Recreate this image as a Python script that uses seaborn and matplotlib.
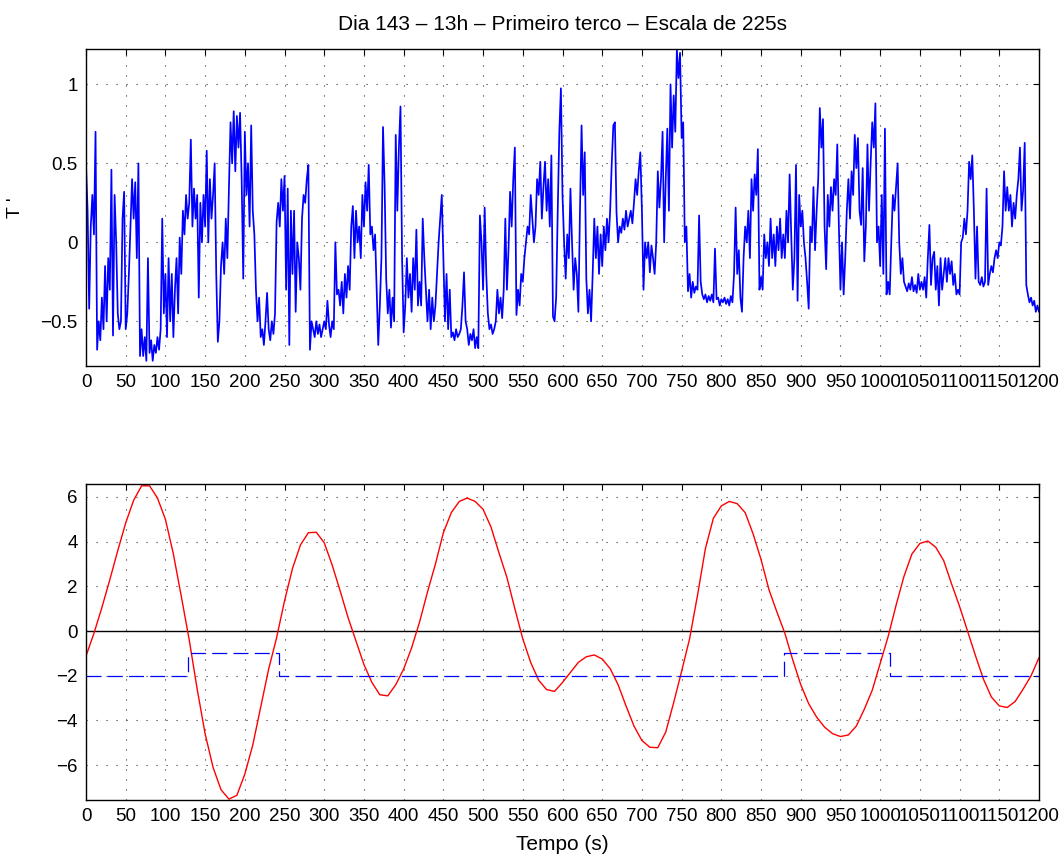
import numpy as np
import pandas as pd
import matplotlib
matplotlib.use("Agg")
import matplotlib.pyplot as plt
import seaborn as sns

# --- data --------------------------------------------------------------
# top panel: temperature fluctuation T' sampled every 2 s (0..1200 s)
sig_dt = 2
sig_vals = [
    0.50, 0.20, -0.42, 0.10, 0.30, 0.05, 0.70, -0.68, -0.50, -0.62,
    -0.35, -0.55, -0.15, -0.50, -0.10, -0.30, 0.46, -0.59, 0.30, 0.00,
    -0.45, -0.55, -0.50, 0.15, 0.32, -0.55, -0.45, -0.20, 0.10, 0.40,
    0.15, 0.38, -0.10, 0.50, -0.72, -0.55, -0.72, -0.60, -0.75, -0.10,
    -0.70, -0.62, -0.75, -0.65, -0.70, -0.60, -0.68, -0.55, 0.15, -0.45,
    -0.20, -0.60, -0.10, -0.50, -0.20, -0.60, -0.30, -0.10, -0.45, 0.03,
    -0.20, 0.20, 0.05, 0.30, 0.15, 0.25, 0.65, 0.10, 0.34, 0.15,
    0.30, -0.35, 0.25, 0.00, 0.30, 0.10, 0.58, 0.00, 0.40, 0.15,
    0.30, 0.50, -0.20, -0.63, -0.50, -0.15, 0.00, -0.20, 0.15, -0.10,
    0.35, 0.76, 0.50, 0.83, 0.45, 0.80, 0.60, 0.82, 0.40, -0.23,
    0.70, 0.30, 0.50, 0.10, 0.74, 0.20, 0.05, -0.30, -0.50, -0.35,
    -0.60, -0.55, -0.65, -0.50, -0.32, -0.55, -0.62, -0.50, -0.58, -0.45,
    0.13, 0.25, 0.10, 0.40, 0.20, 0.42, -0.30, 0.34, -0.65, 0.20,
    -0.20, 0.20, -0.44, 0.00, -0.10, -0.30, 0.15, 0.30, 0.25, 0.40,
    0.49, -0.68, -0.50, -0.55, -0.60, -0.50, -0.58, -0.52, -0.60, -0.55,
    -0.50, -0.55, -0.37, -0.52, -0.60, -0.50, -0.55, 0.00, -0.33, -0.30,
    -0.40, -0.25, -0.45, -0.20, -0.35, -0.15, -0.30, 0.10, 0.23, -0.10,
    0.20, 0.00, 0.10, -0.10, 0.30, 0.10, 0.38, 0.20, 0.49, 0.05,
    0.10, -0.05, 0.05, -0.30, -0.65, -0.40, -0.10, 0.73, 0.36, -0.23,
    -0.45, -0.30, -0.54, -0.35, -0.50, 0.68, 0.20, 0.60, 0.86, -0.10,
    -0.57, -0.40, -0.10, -0.35, -0.20, -0.44, -0.10, -0.30, 0.08, -0.40,
    -0.25, -0.40, 0.15, -0.10, -0.30, -0.50, -0.30, -0.55, -0.35, -0.50,
    -0.40, -0.20, 0.00, 0.15, 0.30, -0.10, -0.50, -0.20, -0.55, -0.30,
    -0.60, -0.57, -0.62, -0.55, -0.60, -0.58, -0.55, -0.40, -0.19, -0.50,
    -0.55, -0.65, -0.58, -0.62, -0.55, -0.67, -0.60, -0.67, 0.17, 0.00,
    -0.30, 0.22, -0.20, -0.45, -0.55, -0.52, -0.58, -0.55, -0.50, -0.30,
    -0.45, -0.35, -0.48, -0.30, 0.15, -0.30, -0.05, 0.32, 0.10, 0.40,
    0.60, -0.46, -0.30, -0.40, -0.20, -0.25, -0.10, 0.00, 0.10, 0.05,
    0.30, 0.15, 0.00, 0.10, 0.40, 0.30, 0.51, 0.15, 0.35, 0.51,
    0.20, 0.40, 0.10, 0.55, -0.47, -0.50, -0.35, 0.20, 0.70, 0.975,
    0.30, 0.00, -0.23, 0.05, -0.10, 0.34, 0.00, -0.30, -0.10, -0.20,
    -0.44, 0.20, 0.74, 0.30, 0.57, -0.23, -0.45, -0.30, -0.50, -0.20,
    0.15, -0.10, 0.10, -0.20, 0.05, -0.15, 0.10, -0.05, 0.15, 0.00,
    0.20, 0.50, 0.74, 0.76, 0.19, 0.00, 0.10, 0.06, 0.15, 0.08,
    0.20, 0.10, 0.15, 0.20, 0.12, 0.25, 0.40, 0.30, 0.45, 0.57,
    0.20, -0.30, 0.00, -0.10, 0.00, -0.19, -0.02, -0.10, -0.20, 0.00,
    0.45, 0.22, 0.40, 0.70, 0.00, 0.40, 0.72, 0.20, 1.00, 0.60,
    0.93, 0.70, 1.22, 1.04, 1.20, 0.66, 0.76, 0.00, 0.10, -0.31,
    -0.20, -0.35, -0.25, -0.32, -0.28, -0.30, 0.17, -0.25, -0.33, -0.36,
    -0.33, -0.38, -0.34, -0.37, -0.33, -0.38, -0.04, -0.36, -0.35, -0.40,
    -0.36, -0.38, -0.35, -0.39, -0.36, -0.40, -0.34, -0.38, -0.20, 0.22,
    -0.20, -0.05, -0.35, -0.44, -0.10, 0.10, 0.00, 0.20, -0.10, 0.40,
    0.20, 0.43, 0.30, 0.59, -0.30, -0.22, -0.30, 0.05, -0.10, 0.00,
    -0.15, 0.15, -0.10, 0.05, -0.15, 0.10, -0.05, 0.15, -0.10, 0.05,
    -0.10, 0.20, 0.00, 0.43, 0.05, -0.30, -0.10, 0.49, -0.37, 0.30,
    0.10, 0.20, 0.00, -0.10, -0.25, -0.42, 0.10, 0.00, 0.35, -0.05,
    0.20, 0.40, 0.85, 0.60, 0.78, 0.10, -0.17, 0.30, 0.10, 0.35,
    0.20, 0.40, 0.30, 0.62, 0.10, -0.30, 0.00, -0.33, -0.10, 0.20,
    0.40, 0.15, 0.45, 0.30, 0.68, 0.47, 0.66, 0.20, 0.11, 0.47,
    -0.12, 0.10, 0.62, 0.20, 0.50, 0.76, 0.60, 0.88, 0.00, 0.10,
    -0.15, 0.30, -0.20, 0.72, -0.33, -0.25, -0.33, 0.00, 0.30, 0.20,
    0.35, 0.50, 0.00, -0.20, -0.10, -0.25, -0.28, -0.31, -0.26, -0.30,
    -0.22, -0.31, -0.27, -0.32, -0.20, -0.30, -0.25, -0.30, -0.22, -0.35,
    -0.10, 0.11, -0.27, -0.10, -0.06, -0.30, -0.15, -0.40, -0.10, -0.30,
    -0.20, -0.10, -0.25, -0.10, -0.20, -0.12, -0.27, -0.20, -0.33, -0.30,
    -0.33, 0.00, 0.03, 0.15, 0.05, 0.20, 0.51, 0.40, 0.55, 0.20,
    -0.23, 0.10, -0.25, -0.27, -0.22, -0.28, -0.25, 0.34, -0.27, -0.20,
    -0.15, -0.19, -0.10, -0.05, -0.10, 0.00, -0.02, 0.10, 0.45, 0.20,
    0.35, 0.20, 0.30, 0.10, 0.25, 0.15, 0.30, 0.40, 0.60, 0.20,
    0.33, 0.63, -0.27, -0.33, -0.38, -0.35, -0.40, -0.37, -0.44, -0.40,
    -0.44,
]

# bottom panel: wavelet coefficient (every 10 s)
coef_dt = 10
coef_vals = [
    -1.12, -0.10, 1.05, 2.30, 3.60, 4.84, 5.85, 6.50, 6.50, 5.95,
    5.00, 3.45, 1.55, -0.40, -2.60, -4.60, -6.10, -7.10, -7.52, -7.35,
    -6.40, -5.10, -3.40, -1.70, -0.30, 1.35, 2.80, 3.85, 4.40, 4.42,
    3.95, 2.95, 1.80, 0.60, -0.45, -1.50, -2.30, -2.85, -2.90, -2.40,
    -1.70, -0.75, 0.40, 1.75, 3.00, 4.40, 5.30, 5.80, 5.95, 5.80,
    5.45, 4.65, 3.50, 2.40, 1.00, -0.35, -1.41, -2.20, -2.62, -2.70,
    -2.30, -1.85, -1.40, -1.15, -1.07, -1.25, -1.68, -2.40, -3.35, -4.25,
    -4.90, -5.20, -5.22, -4.52, -3.20, -1.80, -0.35, 1.60, 3.70, 5.05,
    5.60, 5.80, 5.70, 5.30, 4.35, 3.20, 1.85, 0.85, -0.10, -1.30,
    -2.40, -3.25, -3.85, -4.30, -4.59, -4.72, -4.65, -4.25, -3.50, -2.65,
    -1.45, -0.25, 1.15, 2.45, 3.45, 3.92, 4.03, 3.75, 3.15, 2.10,
    1.10, 0.00, -1.10, -2.15, -2.95, -3.35, -3.42, -3.15, -2.60, -2.00,
    -1.19,
]

# bottom panel: blue step indicator
step_t = [0, 128, 243, 879, 1012, 1200]
step_level = [-2, -1, -2, -1, -2, -2]

xticks = list(range(0, 1201, 50))
top_yticks = [-0.5, 0, 0.5, 1]
top_ylabels = ["\u22120.5", "0", "0.5", "1"]
bot_yticks = [-6, -4, -2, 0, 2, 4, 6]

title = "Dia 143 \u2013 13h \u2013 Primeiro terco \u2013 Escala de 225s"

# --- style ---------------------------------------------------------------
sns.set_theme(style="white")
plt.rcParams["font.family"] = ["Liberation Sans", "DejaVu Sans"]
plt.rcParams["axes.unicode_minus"] = True
plt.rcParams["text.color"] = "black"
plt.rcParams["axes.labelcolor"] = "black"

sig = pd.DataFrame({"t": np.arange(len(sig_vals)) * sig_dt, "T": sig_vals})
coef = pd.DataFrame({"t": np.arange(len(coef_vals)) * coef_dt, "c": coef_vals})
step = pd.DataFrame({"t": step_t, "lev": step_level})

W, H = 1064, 857
fig = plt.figure(figsize=(W / 100, H / 100), dpi=100)
ax1 = fig.add_axes([86 / W, (H - 366) / H, 953 / W, 317 / H])
ax2 = fig.add_axes([86 / W, (H - 800) / H, 953 / W, 316 / H])

grid_kw = dict(color="0.2", linestyle=(0, (1, 8)), linewidth=0.8)


def matlab_axes(ax):
    ax.set_facecolor("white")
    for s in ax.spines.values():
        s.set_visible(True)
        s.set_color("black")
        s.set_linewidth(1.0)
    ax.tick_params(direction="in", length=4.5, width=0.8, top=True, right=True,
                   labelsize=13.5, colors="black", pad=6)
    ax.set_xlim(0, 1200)
    ax.set_xticks(xticks)
    ax.set_xticklabels([str(x) for x in xticks])
    ax.grid(True, **grid_kw)
    ax.set_axisbelow(True)
    ax.set_xlabel("")
    ax.set_ylabel("")


# top panel
sns.lineplot(data=sig, x="t", y="T", ax=ax1, color="#0000ff", linewidth=1.25,
             estimator=None, sort=False, legend=False)
matlab_axes(ax1)
ax1.set_ylim(-0.783, 1.224)
ax1.set_yticks(top_yticks)
ax1.set_yticklabels(top_ylabels)
ax1.set_ylabel("T '", fontsize=14, labelpad=12)

# bottom panel
ax2.axhline(0, color="black", linewidth=1.0, zorder=2)
sns.lineplot(data=coef, x="t", y="c", ax=ax2, color="#ff0000", linewidth=1.0,
             estimator=None, sort=False, legend=False)
sns.lineplot(data=step, x="t", y="lev", ax=ax2, color="#0000ff", linewidth=0.9,
             estimator=None, sort=False, legend=False, drawstyle="steps-post",
             linestyle=(0, (12, 5)))
matlab_axes(ax2)
ax2.set_ylim(-7.56, 6.58)
ax2.set_yticks(bot_yticks)
ax2.set_yticklabels([str(v).replace("-", "\u2212") for v in bot_yticks])

fig.text(563 / W, 1 - 25 / H, title, ha="center", va="center", fontsize=15)
fig.text(562 / W, 1 - 845 / H, "Tempo (s)", ha="center", va="center", fontsize=15)

fig.savefig("out.png", dpi=100, facecolor="white")
